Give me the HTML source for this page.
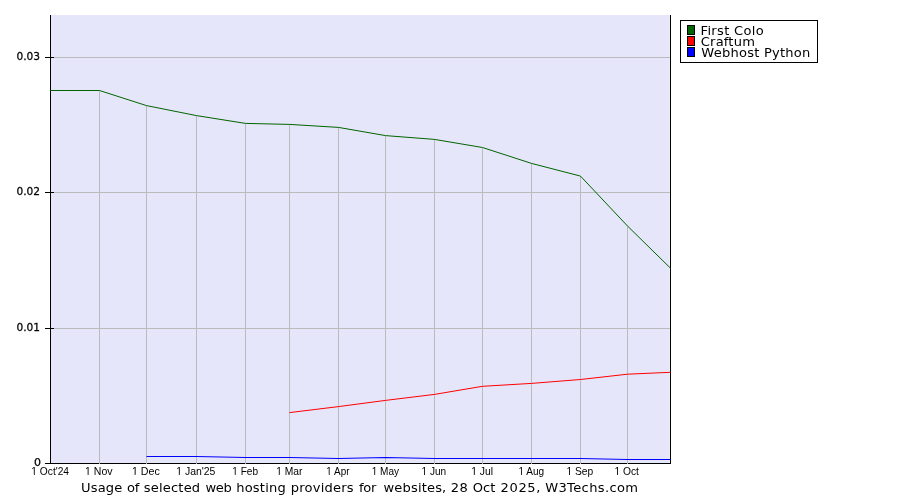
<!DOCTYPE html>
<html><head><meta charset="utf-8"><title>Usage of selected web hosting providers for websites</title>
<style>
html,body{margin:0;padding:0;background:#fff;}
body{width:900px;height:500px;overflow:hidden;}
svg{display:block;}
.xl{font-family:"Liberation Sans",Arial,sans-serif;font-size:11px;fill:#000;}
.yl{font-family:"DejaVu Sans",Verdana,sans-serif;font-size:11px;fill:#000;stroke:#000;stroke-width:0.25px;}
.cap{font-family:"DejaVu Sans",Verdana,sans-serif;font-size:12px;fill:#000;}
.lg{font-family:"DejaVu Sans",Verdana,sans-serif;font-size:12px;fill:#000;}
</style></head><body>
<svg width="900" height="500" viewBox="0 0 900 500">
<rect x="0" y="0" width="900" height="500" fill="#ffffff"/>
<rect x="51" y="15" width="619" height="448" fill="#ececfb"/>
<rect x="51" y="15" width="618" height="448" fill="#e6e6fa"/>
<g shape-rendering="crispEdges">
<rect x="51" y="57" width="619" height="1" fill="#bbbbbb"/>
<rect x="51" y="192" width="619" height="1" fill="#bbbbbb"/>
<rect x="51" y="328" width="619" height="1" fill="#bbbbbb"/>
<rect x="50" y="15" width="1" height="449" fill="#000"/>
<rect x="670" y="15" width="1" height="449" fill="#000"/>
<rect x="45" y="463" width="626" height="1" fill="#000"/>
<rect x="45" y="57" width="9" height="1" fill="#000"/>
<rect x="45" y="192" width="9" height="1" fill="#000"/>
<rect x="45" y="328" width="9" height="1" fill="#000"/>
<rect x="99" y="90" width="1" height="374" fill="#bbbbbb"/>
<rect x="146" y="106" width="1" height="358" fill="#bbbbbb"/>
<rect x="196" y="116" width="1" height="348" fill="#bbbbbb"/>
<rect x="245" y="123" width="1" height="341" fill="#bbbbbb"/>
<rect x="289" y="124" width="1" height="340" fill="#bbbbbb"/>
<rect x="338" y="127" width="1" height="337" fill="#bbbbbb"/>
<rect x="385" y="136" width="1" height="328" fill="#bbbbbb"/>
<rect x="434" y="139" width="1" height="325" fill="#bbbbbb"/>
<rect x="482" y="148" width="1" height="316" fill="#bbbbbb"/>
<rect x="531" y="163" width="1" height="301" fill="#bbbbbb"/>
<rect x="580" y="176" width="1" height="288" fill="#bbbbbb"/>
<rect x="627" y="226" width="1" height="238" fill="#bbbbbb"/>
</g>
<polyline points="50.5,90.5 99.5,90.5 146.5,105.6 196.5,115.6 245.5,123.4 289.5,124.4 338.5,127.4 385.5,135.6 434.5,139.4 482.5,147.5 531.5,163.4 580.5,176.1 627.5,226 670.5,268.2" fill="none" stroke="#006400" stroke-width="1"/>
<polyline points="289.5,412.6 338.5,406.6 385.5,400.4 434.5,394.4 482.5,386.3 531.5,383.4 580.5,379.5 627.5,374.2 670.5,372.3" fill="none" stroke="#ff0000" stroke-width="1"/>
<polyline points="146.5,456.5 196.5,456.5 245.5,457.5 289.5,457.5 338.5,458.5 385.5,457.5 434.5,458.5 482.5,458.5 531.5,458.5 580.5,458.5 627.5,459.5 670.5,459.5" fill="none" stroke="#0000ff" stroke-width="1.2"/>
<text transform="translate(40.1,60) scale(0.966,1)" text-anchor="end" class="yl">0.03</text>
<text transform="translate(40.1,195) scale(0.966,1)" text-anchor="end" class="yl">0.02</text>
<text transform="translate(40.1,331) scale(0.966,1)" text-anchor="end" class="yl">0.01</text>
<text transform="translate(40.9,466) scale(1,1)" text-anchor="end" class="yl">0</text>
<text transform="translate(31.32,475) scale(0.9299,1)" class="xl">1 Oct'24</text>
<path d="M31.50 474h2.39v1.2h-2.39zM34.80 474h2.31v1.2h-2.31z" fill="#fff"/>
<text transform="translate(85.0,475) scale(0.9579,1)" class="xl">1 Nov</text>
<path d="M85.20 474h2.45v1.2h-2.45zM88.58 474h2.36v1.2h-2.36z" fill="#fff"/>
<text transform="translate(131.88,475) scale(0.9739,1)" class="xl">1 Dec</text>
<path d="M132.10 474h2.48v1.2h-2.48zM135.52 474h2.39v1.2h-2.39z" fill="#fff"/>
<text transform="translate(176.21,475) scale(0.9487,1)" class="xl">1 Jan'25</text>
<path d="M176.41 474h2.43v1.2h-2.43zM179.76 474h2.35v1.2h-2.35z" fill="#fff"/>
<text transform="translate(232.23,475) scale(0.9165,1)" class="xl">1 Feb</text>
<path d="M232.40 474h2.37v1.2h-2.37zM235.66 474h2.29v1.2h-2.29z" fill="#fff"/>
<text transform="translate(276.22,475) scale(0.9334,1)" class="xl">1 Mar</text>
<path d="M276.40 474h2.40v1.2h-2.40zM279.71 474h2.32v1.2h-2.32z" fill="#fff"/>
<text transform="translate(326.35,475) scale(0.9,1)" class="xl">1 Apr</text>
<path d="M326.50 474h2.34v1.2h-2.34zM329.71 474h2.26v1.2h-2.26z" fill="#fff"/>
<text transform="translate(371.73,475) scale(0.9138,1)" class="xl">1 May</text>
<path d="M371.90 474h2.36v1.2h-2.36zM375.15 474h2.28v1.2h-2.28z" fill="#fff"/>
<text transform="translate(421.53,475) scale(0.9145,1)" class="xl">1 Jun</text>
<path d="M421.70 474h2.36v1.2h-2.36zM424.95 474h2.28v1.2h-2.28z" fill="#fff"/>
<text transform="translate(471.21,475) scale(0.9457,1)" class="xl">1 Jul</text>
<path d="M471.40 474h2.42v1.2h-2.42zM474.75 474h2.34v1.2h-2.34z" fill="#fff"/>
<text transform="translate(518.43,475) scale(0.9137,1)" class="xl">1 Aug</text>
<path d="M518.60 474h2.36v1.2h-2.36zM521.85 474h2.28v1.2h-2.28z" fill="#fff"/>
<text transform="translate(566.42,475) scale(0.9326,1)" class="xl">1 Sep</text>
<path d="M566.60 474h2.40v1.2h-2.40zM569.91 474h2.32v1.2h-2.32z" fill="#fff"/>
<text transform="translate(614.42,475) scale(0.9339,1)" class="xl">1 Oct</text>
<path d="M614.60 474h2.40v1.2h-2.40zM617.91 474h2.32v1.2h-2.32z" fill="#fff"/>

<text transform="scale(1.09,1)" y="492" class="cap" id="cap"><tspan x="74.37" letter-spacing="0.087">Usage </tspan><tspan x="116.59" letter-spacing="-0.227">of </tspan><tspan x="131.83" letter-spacing="0.168">selected </tspan><tspan x="188.49" letter-spacing="-0.366">web </tspan><tspan x="216.71" letter-spacing="0.169">hosting </tspan><tspan x="266.8" letter-spacing="0.174">providers </tspan><tspan x="329.45" letter-spacing="-0.314">for </tspan><tspan x="351.79" letter-spacing="0.135">websites, </tspan><tspan x="413.52" letter-spacing="0.455">28 </tspan><tspan x="433.64" letter-spacing="0.014">Oct </tspan><tspan x="459.21" letter-spacing="0.57">2025, </tspan><tspan x="500.15" letter-spacing="0.319">W3Techs.com</tspan></text>
<g shape-rendering="crispEdges">
<rect x="680.5" y="20.5" width="137" height="42" fill="#fff" stroke="#000" stroke-width="1"/>
<rect x="687.5" y="25.5" width="7" height="9" fill="#006400" stroke="#000" stroke-width="1"/>
<rect x="687.5" y="36.5" width="7" height="9" fill="#ff0000" stroke="#000" stroke-width="1"/>
<rect x="687.5" y="47.5" width="7" height="9" fill="#0000ff" stroke="#000" stroke-width="1"/>
</g>
<text transform="scale(1.09,1)" x="642.68" y="35" letter-spacing="0.289" class="lg" id="l1">First Colo</text>
<text transform="scale(1.09,1)" x="642.9" y="46" letter-spacing="0.165" class="lg" id="l2">Craftum</text>
<text transform="scale(1.09,1)" x="643.45" y="57" letter-spacing="0.197" class="lg" id="l3">Webhost Python</text>
</svg>
</body></html>
